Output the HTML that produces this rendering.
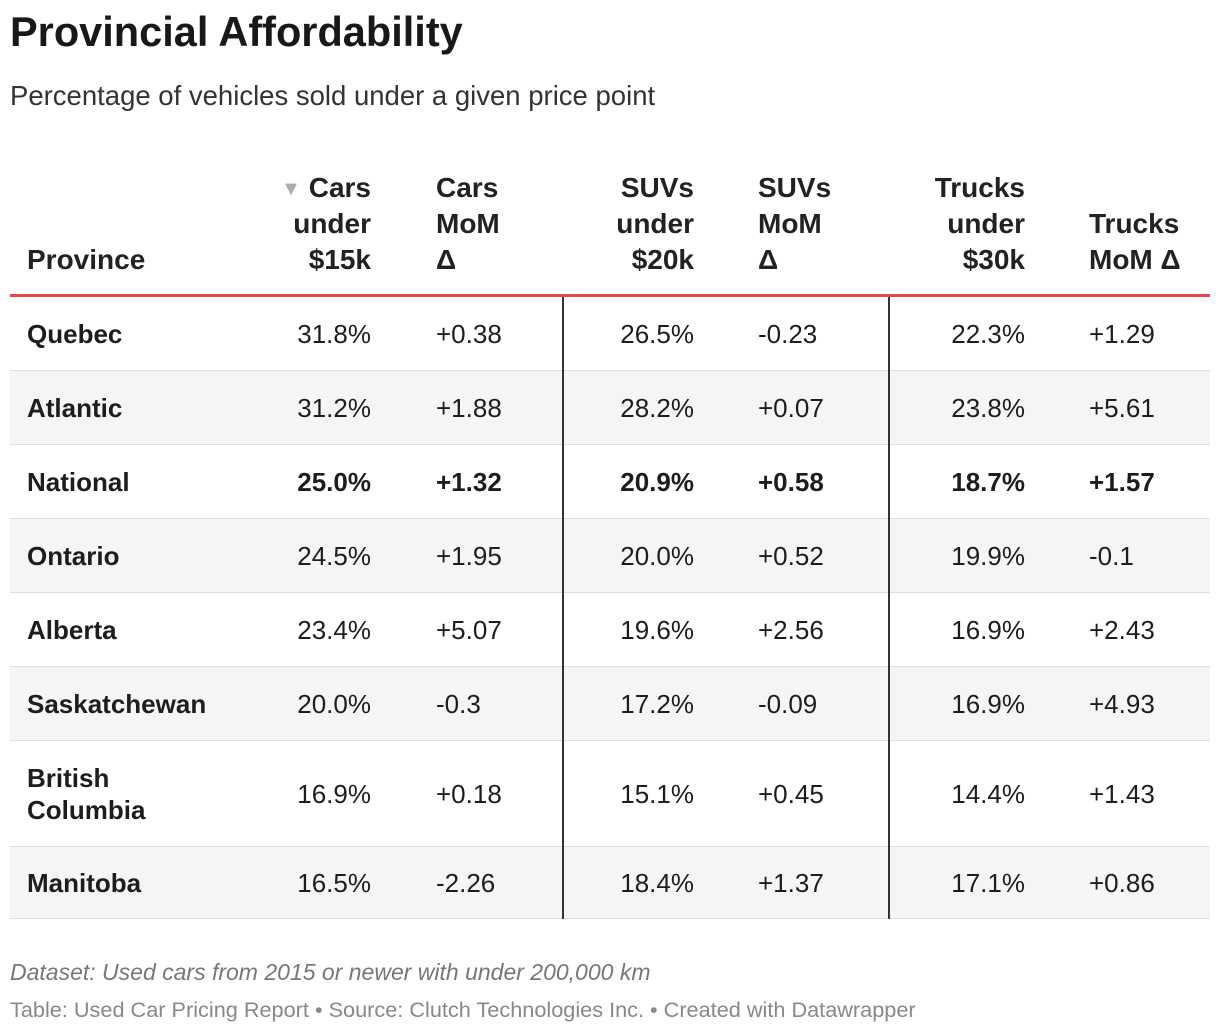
<!DOCTYPE html>
<html><head><meta charset="utf-8">
<style>
body{margin:0;width:1220px;height:1034px;background:#fff;font-family:"Liberation Sans",Arial,sans-serif;color:#1d1d1d;position:relative;overflow:hidden}
.a{position:absolute}
h1{position:absolute;left:10px;top:8px;margin:0;font-size:41.5px;font-weight:bold;color:#181818}
.sub{left:10px;top:80px;font-size:27.5px;color:#333}
.hd{position:absolute;font-weight:bold;font-size:28px;line-height:36px;color:#222}
.row{position:absolute;left:10px;width:1200px;border-bottom:1px solid #ddd}
.c{position:absolute;font-size:26px;line-height:30px;top:50%;transform:translateY(-50%)}
.r{text-align:right}
.vl{position:absolute;width:2px;background:#333;top:297px;height:622px}
</style></head><body>
<h1>Provincial Affordability</h1>
<div class="a sub">Percentage of vehicles sold under a given price point</div>

<div class="hd" style="left:27px;top:242px">Province</div>
<div class="hd r" style="left:230px;width:141px;top:170px"><span style="color:#aaa;font-size:20px;line-height:0;vertical-align:2px">▼</span> Cars<br>under<br>$15k</div>
<div class="hd" style="left:436px;top:170px">Cars<br>MoM<br>Δ</div>
<div class="hd r" style="left:560px;width:134px;top:170px">SUVs<br>under<br>$20k</div>
<div class="hd" style="left:758px;top:170px">SUVs<br>MoM<br>Δ</div>
<div class="hd r" style="left:880px;width:145px;top:170px">Trucks<br>under<br>$30k</div>
<div class="hd" style="left:1089px;top:206px">Trucks<br>MoM Δ</div>
<div class="a" style="left:10px;top:294px;width:1200px;height:3px;background:#e8474c"></div>

<div id="rows"></div>
<div class="vl" style="left:562px"></div>
<div class="vl" style="left:888px"></div>

<div class="a" style="left:10px;top:959px;font-size:23px;font-style:italic;color:#777">Dataset: Used cars from 2015 or newer with under 200,000 km</div>
<div class="a" style="left:10px;top:997px;font-size:21.7px;color:#888">Table: Used Car Pricing Report • Source: Clutch Technologies Inc. • Created with Datawrapper</div>

<script>
const provinces=["Quebec","Atlantic","National","Ontario","Alberta","Saskatchewan","British<br>Columbia","Manitoba"];
const carsUnder=["31.8%","31.2%","25.0%","24.5%","23.4%","20.0%","16.9%","16.5%"];
const carsMom=["+0.38","+1.88","+1.32","+1.95","+5.07","-0.3","+0.18","-2.26"];
const suvsUnder=["26.5%","28.2%","20.9%","20.0%","19.6%","17.2%","15.1%","18.4%"];
const suvsMom=["-0.23","+0.07","+0.58","+0.52","+2.56","-0.09","+0.45","+1.37"];
const trucksUnder=["22.3%","23.8%","18.7%","19.9%","16.9%","16.9%","14.4%","17.1%"];
const trucksMom=["+1.29","+5.61","+1.57","-0.1","+2.43","+4.93","+1.43","+0.86"];
const heights=[74,74,74,74,74,74,106,72];
const host=document.getElementById('rows');
let y=297;
provinces.forEach((p,i)=>{
  const r=document.createElement('div');
  r.className='row';
  
  
  r.style.top=y+'px';r.style.height=(heights[i]-1)+'px';
  r.style.background=i%2?'#f5f5f5':'#fff';
  const bold=i===2?'font-weight:bold;':'';
  r.innerHTML=
   `<div class="c" style="left:17px;font-weight:bold;line-height:32px">${p}</div>`+
   `<div class="c r" style="left:200px;width:161px;${bold}">${carsUnder[i]}</div>`+
   `<div class="c" style="left:426px;${bold}">${carsMom[i]}</div>`+
   `<div class="c r" style="left:520px;width:164px;${bold}">${suvsUnder[i]}</div>`+
   `<div class="c" style="left:748px;${bold}">${suvsMom[i]}</div>`+
   `<div class="c r" style="left:850px;width:165px;${bold}">${trucksUnder[i]}</div>`+
   `<div class="c" style="left:1079px;${bold}">${trucksMom[i]}</div>`;
  host.appendChild(r);
  y+=heights[i];
});
</script>
</body></html>
